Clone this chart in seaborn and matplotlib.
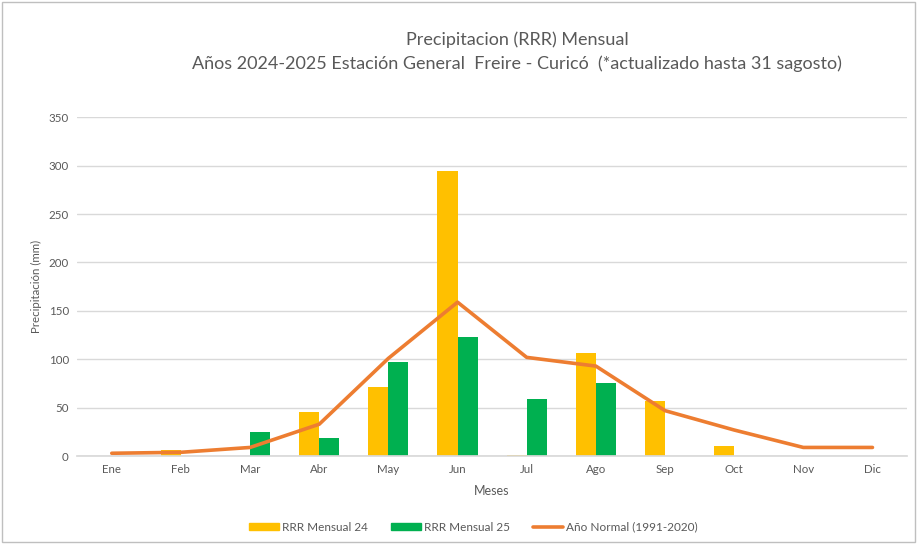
import numpy as np
import pandas as pd
import matplotlib
matplotlib.use("Agg")
import matplotlib.pyplot as plt
import seaborn as sns
from matplotlib.patches import Rectangle
from matplotlib.lines import Line2D

meses = ["Ene", "Feb", "Mar", "Abr", "May", "Jun", "Jul", "Ago", "Sep", "Oct", "Nov", "Dic"]
rrr_24 = [0, 6, 0, 46, 71, 294, 1, 107, 57, 10, 0, 0]
rrr_25 = [0, 0, 25, 19, 97, 123, 59, 76, 0, 0, 0, 0]
normal = [3, 4, 9, 33, 101, 159, 102, 93, 47, 27, 9, 9]

serie_24 = "RRR Mensual 24"
serie_25 = "RRR Mensual 25"
serie_normal = "Año Normal (1991-2020)"

gris = "#595959"
colores = {serie_24: "#FFC000", serie_25: "#00B050"}
naranja = "#ED7D31"

sns.set_theme(style="white")
plt.rcParams["font.family"] = ["Lato", "DejaVu Sans"]

df = pd.DataFrame({
    "Mes": meses * 2,
    "Valor": rrr_24 + rrr_25,
    "Serie": [serie_24] * len(meses) + [serie_25] * len(meses),
})

fig = plt.figure(figsize=(9.19, 5.45), dpi=100)
ax = fig.add_axes([0.084, 0.163, 0.903, 0.622])

sns.barplot(data=df, x="Mes", y="Valor", hue="Serie", order=meses,
            palette=colores, width=0.58, gap=0, ax=ax, legend=False,
            saturation=1, linewidth=0)
sns.lineplot(x=np.arange(len(meses)), y=normal, color=naranja, linewidth=2.6,
             ax=ax, legend=False)

ax.set_ylim(0, 350)
ax.set_xlim(-0.5, len(meses) - 0.5)
ax.set_yticks(range(0, 351, 50))
ax.yaxis.grid(True, color="#d9d9d9", linewidth=1)
ax.set_axisbelow(True)
for s in ["left", "right", "top"]:
    ax.spines[s].set_visible(False)
ax.spines["bottom"].set_color("#d9d9d9")
ax.tick_params(axis="both", length=0, labelsize=8.3, labelcolor=gris, pad=6)

ax.set_xlabel("Meses", fontsize=9, color=gris, labelpad=7)
ax.set_ylabel("Precipitación (mm)", fontsize=8.3, color=gris, labelpad=5)

fig.text(0.563, 0.928, "Precipitacion (RRR) Mensual", ha="center", va="center",
         fontsize=13, color=gris)
fig.text(0.563, 0.884,
         "Años 2024-2025 Estación General  Freire - Curicó  (*actualizado hasta 31 sagosto)",
         ha="center", va="center", fontsize=13, color=gris)

handles = [
    Rectangle((0, 0), 1, 1, color=colores[serie_24]),
    Rectangle((0, 0), 1, 1, color=colores[serie_25]),
    Line2D([0], [0], color=naranja, linewidth=2.6),
]
fig.legend(handles, [serie_24, serie_25, serie_normal], loc="center",
           bbox_to_anchor=(0.515, 0.033), ncol=3, frameon=False, fontsize=8.5,
           labelcolor=gris, handlelength=2.6, handleheight=0.6,
           handletextpad=0.25, columnspacing=1.9)

fig.patches.append(Rectangle((0.002, 0.006), 0.994, 0.99, transform=fig.transFigure,
                             fill=False, edgecolor="#bfbfbf", linewidth=1))

fig.savefig("out.png", dpi=100)
